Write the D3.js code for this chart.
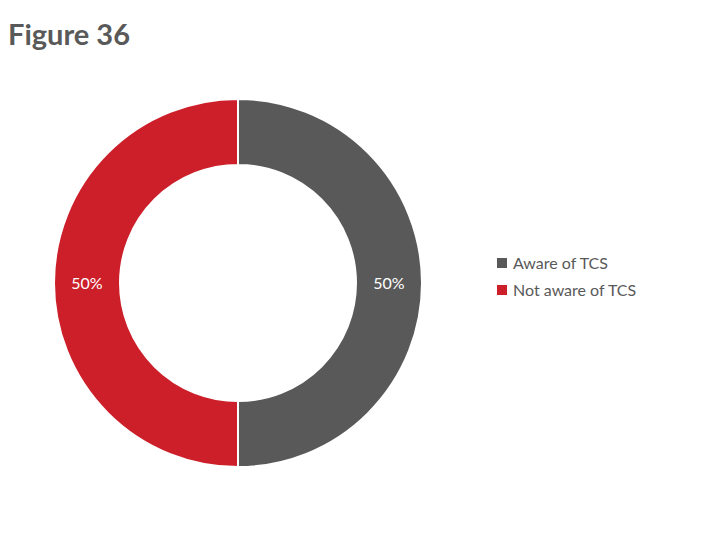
<!DOCTYPE html>
<html><head><meta charset="utf-8">
<script src="https://cdn.jsdelivr.net/npm/d3@7"></script>
<style>body{margin:0;background:#fff}</style>
</head><body>
<script>
const categories = ["Aware of TCS", "Not aware of TCS"];
const values = [50, 50];
const colors = ["#595959", "#CC1F2A"];

const svg = d3.select("body").append("svg").attr("width",720).attr("height",540);
svg.append("text").attr("x",8).attr("y",45).text("Figure 36")
  .attr("font-family","Lato, 'Open Sans', sans-serif").attr("font-weight","bold")
  .attr("font-size",29).attr("fill","#595959");

const cx=238, cy=283, R=184, r=118;
const pie = d3.pie().sort(null).value(d=>d)(values);
const arc = d3.arc().innerRadius(r).outerRadius(R);
const g = svg.append("g").attr("transform",`translate(${cx},${cy})`);
g.selectAll("path").data(pie).join("path").attr("d",arc)
  .attr("fill",(d,i)=>colors[i]).attr("stroke","#fff").attr("stroke-width",2);
const lab = d3.arc().innerRadius((R+r)/2).outerRadius((R+r)/2);
g.selectAll("text").data(pie).join("text")
  .attr("transform",d=>`translate(${lab.centroid(d)})`)
  .attr("text-anchor","middle").attr("dy","0.35em")
  .attr("font-family","Lato, 'Open Sans', sans-serif").attr("font-size",16).attr("fill","#fff")
  .text(d=>d.data+"%");

const lg = svg.append("g");
categories.forEach((c,i)=>{
  const y=263+i*27;
  lg.append("rect").attr("x",497).attr("y",y-5).attr("width",10).attr("height",10).attr("fill",colors[i]);
  lg.append("text").attr("x",513).attr("y",y).attr("dy","0.35em").text(c)
    .attr("font-family","Lato, 'Open Sans', sans-serif").attr("font-size",16).attr("fill","#595959");
});
</script>
</body></html>
